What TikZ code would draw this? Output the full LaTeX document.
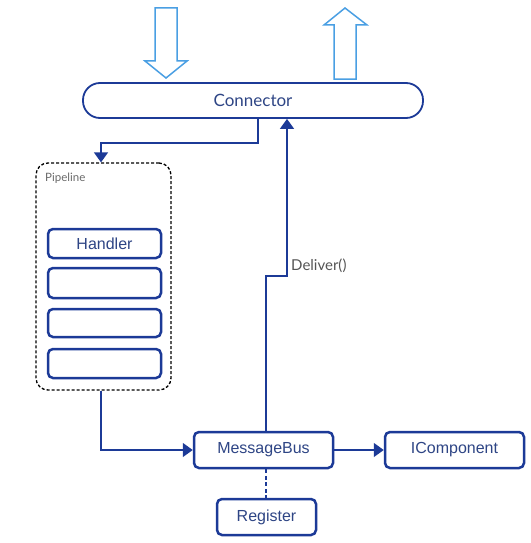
\documentclass[tikz,border=0pt]{standalone}
\usepackage{fontspec}
\setmainfont{Liberation Sans}
\newfontfamily\latofont{Lato}
\usetikzlibrary{arrows.meta}
\definecolor{dblue}{HTML}{1C3A97}
\definecolor{tblue}{HTML}{2E4585}
\definecolor{lblue}{HTML}{4A9FE3}
\definecolor{gtext}{HTML}{6A6A6A}
\tikzset{
  box/.style={draw=dblue, line width=2.5pt, rounded corners=5pt, fill=white, inner sep=0pt, text=tblue, font=\fontsize{16}{18}\selectfont},
  link/.style={draw=dblue, line width=1.4pt},
  tip/.style={-{Triangle[length=10pt,width=14pt]}},
  hollow/.style={draw=lblue, line width=1.5pt, fill=white}
}
\begin{document}
\begin{tikzpicture}[x=1pt,y=-1pt]
\useasboundingbox (0,0) rectangle (530,543);
% hollow arrows
\draw[hollow] (155,8) -- (177,8) -- (177,61) -- (187,61) -- (166,78) -- (145,61) -- (155,61) -- cycle;
\draw[hollow] (334,79) -- (356,79) -- (356,25) -- (367,25) -- (345,8) -- (324,25) -- (334,25) -- cycle;
% Connector
\node[draw=dblue, line width=1.8pt, rounded corners=17pt, minimum width=340pt, minimum height=35pt, inner sep=0pt, text=tblue, font=\latofont\fontsize{17}{19}\selectfont] (conn) at (253,100.5) {Connector};
% Pipeline
\node[draw=black, dash pattern=on 3pt off 2pt, line width=1.3pt, rounded corners=12pt, minimum width=135pt, minimum height=227pt, inner sep=0pt] (pipe) at (103.5,276.5) {};
\node[anchor=west, text=gtext, font=\latofont\fontsize{11.5}{13}\selectfont, inner sep=0pt] (plabel) at (45,178) {Pipeline};
\node[box, minimum width=113pt, minimum height=29pt] (h1) at (104.5,243.5) {Handler};
\node[box, minimum width=113pt, minimum height=30pt] (h2) at (104.5,283) {};
\node[box, minimum width=113pt, minimum height=28pt] (h3) at (104.5,323) {};
\node[box, minimum width=113pt, minimum height=29pt] (h4) at (104.5,363.5) {};
% bottom boxes
\node[box, minimum width=139pt, minimum height=36pt] (bus) at (263.5,450) {MessageBus};
\node[box, minimum width=139pt, minimum height=36pt] (comp) at (454.5,450) {IComponent};
\node[box, minimum width=99pt, minimum height=36pt] (reg) at (266.5,517) {Register};
% connectors
\coordinate (c1) at (258,143);
\draw[link, tip] (conn.south -| c1) -- (c1) -- (101,143) -- (pipe.north -| 101,0);
\draw[link, tip] (pipe.south -| 101,0) |- (bus.west);
\draw[link, tip] (bus.east) -- (comp.west);
\draw[link, dash pattern=on 4pt off 2.5pt, line width=1.3pt] (bus.south -| 266,0) -- (reg.north -| 266,0);
\coordinate (d1) at (266,276);
\coordinate (d2) at (287,276);
\draw[link, tip] (bus.north -| d1) -- (d1) -- (d2) -- (conn.south -| d2);
\node[anchor=west, text=gtext!80!black, font=\latofont\fontsize{15}{18}\selectfont, inner sep=0pt] (dlabel) at (291,266) {Deliver()};
\end{tikzpicture}
\end{document}
